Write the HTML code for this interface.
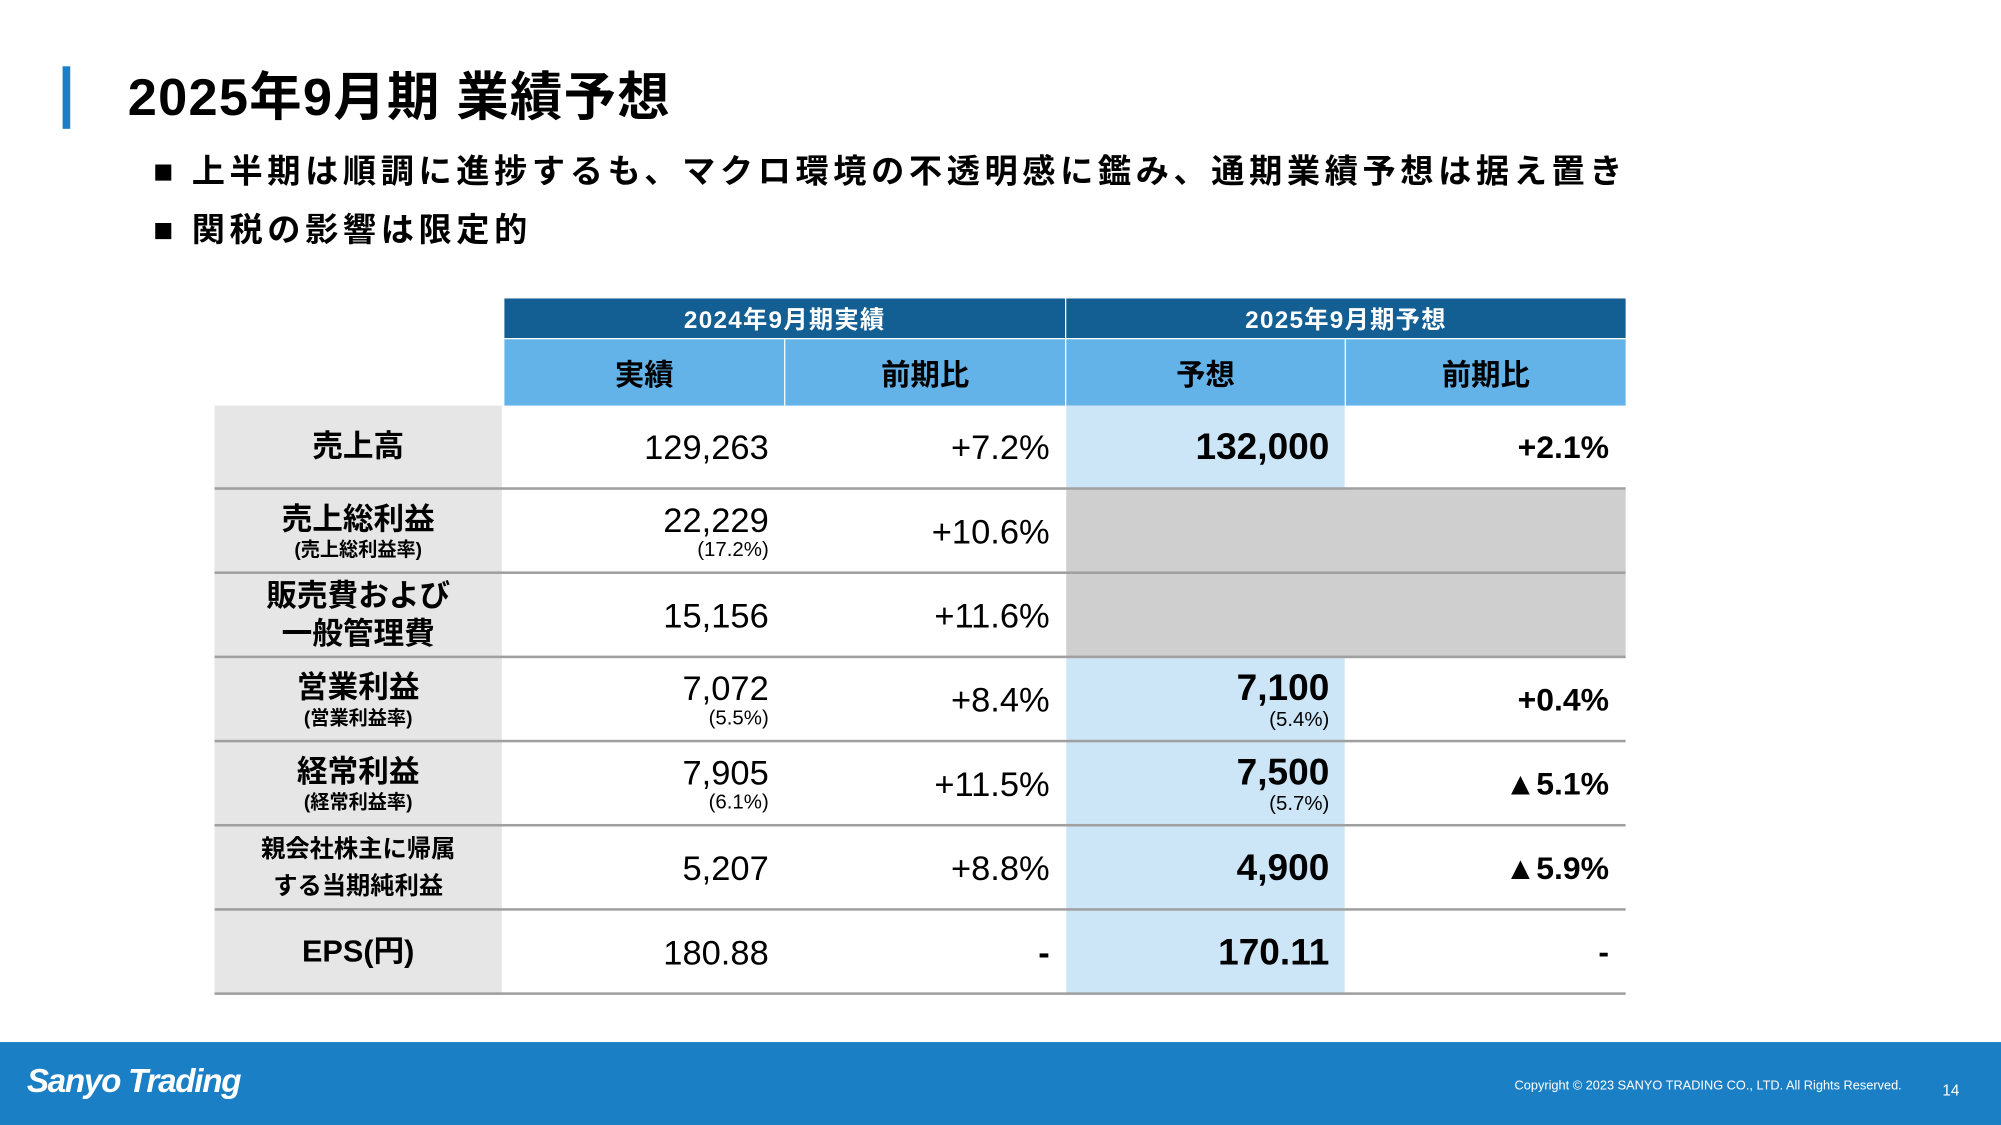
<!DOCTYPE html>
<html><head><meta charset="utf-8">
<style>
*{margin:0;padding:0;box-sizing:border-box}
html,body{width:2001px;height:1125px;overflow:hidden;background:#fff}
#w{position:absolute;left:0;top:0;width:1567px;height:882px;transform:scale(1.277,1.2755);transform-origin:0 0;font-family:"Liberation Sans","Noto Sans CJK JP",sans-serif;color:#000}
.a{position:absolute}
.b{font-weight:bold}
.c{display:flex;align-items:center;justify-content:center;text-align:center}
.r{display:flex;flex-direction:column;align-items:flex-end;justify-content:center;text-align:right}
.v{font-size:27px;line-height:30px}
.vb{font-size:29px;line-height:31px;font-weight:bold}
.s{font-size:16px;line-height:18px}
.lab{font-size:24px;line-height:30px;font-weight:bold}
.sl{font-size:15px;line-height:18px;font-weight:bold}
</style></head><body>
<div id="w">
<div class="a" style="left:49px;top:52px;width:6px;height:49px;background:#1a7fc4"></div>
<div class="a b" style="left:100px;top:52px;font-size:41px;line-height:48px;letter-spacing:1px">2025年9月期 業績予想</div>
<div class="a b" style="left:120px;top:117px;font-size:26px;line-height:34px;letter-spacing:3.6px">■ 上半期は順調に進捗するも、マクロ環境の不透明感に鑑み、通期業績予想は据え置き</div>
<div class="a b" style="left:120px;top:163px;font-size:26px;line-height:34px;letter-spacing:3.6px">■ 関税の影響は限定的</div>

<div class="a c b" style="left:395px;top:234px;width:439px;height:31px;background:#135e93;color:#fff;font-size:19px;letter-spacing:1px">2024年9月期実績</div>
<div class="a c b" style="left:835px;top:234px;width:438px;height:31px;background:#135e93;color:#fff;font-size:19px;letter-spacing:1px">2025年9月期予想</div>
<div class="a c b" style="left:395px;top:266px;width:219px;height:52px;background:#63b3e9;font-size:23px">実績</div>
<div class="a c b" style="left:615px;top:266px;width:219px;height:52px;background:#63b3e9;font-size:23px">前期比</div>
<div class="a c b" style="left:835px;top:266px;width:218px;height:52px;background:#63b3e9;font-size:23px">予想</div>
<div class="a c b" style="left:1054px;top:266px;width:219px;height:52px;background:#63b3e9;font-size:23px">前期比</div>

<div class="a" style="left:168px;top:318px;width:225px;height:462px;background:#e6e6e6"></div>
<div class="a" style="left:835px;top:318px;width:218px;height:462px;background:#cce5f7"></div>
<div class="a" style="left:835px;top:384px;width:438px;height:132px;background:#d0cfd0"></div>

<div id="rows"></div>

<div class="a" style="left:0;top:817px;width:1567px;height:65px;background:#1a7fc4"></div>
<div class="a b" style="left:21px;top:832px;color:#fff;font-size:26px;font-style:italic;letter-spacing:-1px">Sanyo Trading</div>
<div class="a" style="left:1186px;top:846px;color:#fff;font-size:10px">Copyright © 2023 SANYO TRADING CO., LTD. All Rights Reserved.</div>
<div class="a" style="left:1521px;top:848px;color:#fff;font-size:12px">14</div>
</div>
<script>
const labels=[["売上高",""],["売上総利益","(売上総利益率)"],["販売費および<br>一般管理費",""],["営業利益","(営業利益率)"],["経常利益","(経常利益率)"],["親会社株主に帰属<br>する当期純利益",""],["EPS(円)",""]];
const actual=["129,263","22,229","15,156","7,072","7,905","5,207","180.88"];
const actualSub=["","(17.2%)","","(5.5%)","(6.1%)","",""];
const yoy24=["+7.2%","+10.6%","+11.6%","+8.4%","+11.5%","+8.8%","-"];
const forecast=["132,000","","","7,100","7,500","4,900","170.11"];
const forecastSub=["","","","(5.4%)","(5.7%)","",""];
const yoy25=["+2.1%","","","+0.4%","▲5.1%","▲5.9%","-"];
const root=document.getElementById('rows');
const top0=318,rh=66;
function cell(x,w,y,html,name){const d=document.createElement('div');d.className='a r';d.style.left=x+'px';d.style.top=y+'px';d.style.width=w+'px';d.style.height=rh+'px';d.innerHTML=html;


root.appendChild(d);return d;}
labels.forEach((l,i)=>{
 const y=top0+i*rh;
 const lb=document.createElement('div');lb.className='a c';lb.style.cssText=`left:168px;top:${y}px;width:225px;height:${rh}px;flex-direction:column`;
 const small=i===5?'font-size:19px;line-height:29px':'';
 lb.innerHTML=`<div class="lab" style="${small}">${l[0]}</div>`+(l[1]?`<div class="sl">${l[1]}</div>`:'');
 
 
 root.appendChild(lb);
 cell(395,207,y,`<div class="v">${actual[i]}</div>`+(actualSub[i]?`<div class="s">${actualSub[i]}</div>`:''),'actual-value');
 cell(615,207,y,`<div class="v${yoy24[i]==='-'?' b':''}">${yoy24[i]}</div>`,'yoy-2024-value');
 if(forecast[i])cell(835,206,y,`<div class="vb">${forecast[i]}</div>`+(forecastSub[i]?`<div class="s">${forecastSub[i]}</div>`:''),'forecast-value');
 if(yoy25[i])cell(1054,206,y,`<div class="vb" style="font-size:25px">${yoy25[i]}</div>`,'yoy-2025-value');
 const ln=document.createElement('div');ln.className='a';ln.style.cssText=`left:168px;top:${y+rh-2}px;width:1105px;height:2px;background:#a0a0a0`;
 
 
 root.appendChild(ln);
});
</script>
</body></html>
